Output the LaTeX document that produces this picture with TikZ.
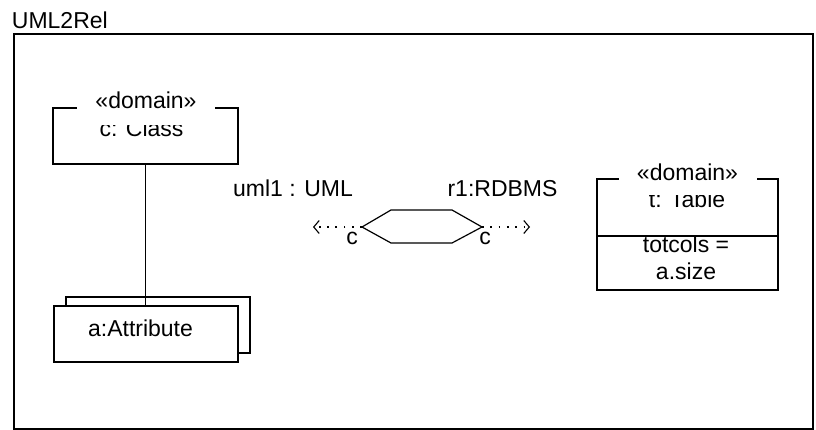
\documentclass[tikz,border=0pt]{standalone}
\usepackage{fontspec}
\setmainfont{Liberation Sans}
\usetikzlibrary{arrows.meta, positioning}

\begin{document}
\begin{tikzpicture}[x=1pt, y=-1pt, line width=1.2pt,
  font=\fontsize{23}{27}\selectfont,
  objbox/.style={draw, fill=white, inner sep=0pt},
  stereo/.style={fill=white, inner sep=0pt, minimum width=138},
  portlink/.style={dash pattern=on 1.8pt off 6.5pt, line width=1.1pt,
    -{Straight Barb[length=5.5pt, width=13pt, line width=1.1pt]}},
  every node/.style={align=center}]
  \useasboundingbox (0,0) rectangle (816,430);

  % frame
  \node[anchor=base west] (title) at (8,29) {UML2Rel};
  \draw (14,34) rectangle (813,429);

  % class object
  \node[objbox, minimum width=185, minimum height=56] (cls) at (145.5,136) {};
  \node[anchor=base] (clsname) at (141.5,137) {c: Class};
  \node[stereo, minimum height=50] (clsstereo) at (146,100) {«domain»};

  % attribute objects
  \node[objbox, minimum width=184, minimum height=56] (attrback) at (158,325) {};
  \node[objbox, minimum width=184, minimum height=56] (attr) at (146,334) {};
  \node[anchor=base] (attrname) at (140.5,336) {a:Attribute};
  \draw (cls.south) -- (cls.south |- attr.north);

  % relation
  \coordinate (hexl) at (362,227);
  \coordinate (hexr) at (482,227);
  \draw (hexl) -- (391,210) -- (452,210) -- (hexr) -- (452,243) -- (391,243) -- cycle;
  \coordinate (umlend) at (313,227);
  \coordinate (relend) at (530,227);
  \draw[portlink] (hexl) -- (umlend);
  \draw[portlink] (hexr) -- (relend);
  \node (umlc) at (352,238.5) {c};
  \node (relc) at (485,238.5) {c};
  \node[anchor=base] (umllbl) at (293,197) {uml1 : UML};
  \node[anchor=base] (rdbmslbl) at (502.5,197) {r1:RDBMS};

  % table object
  \node[objbox, minimum width=181, minimum height=57] (tblhead) at (687.5,207.5) {};
  \node[objbox, minimum width=181, minimum height=54] (tblbody) at (687.5,263) {};
  \node[anchor=base] (tblname) at (687,208) {t: Table};
  \node[stereo, minimum height=46] (tblstereo) at (687.5,172) {«domain»};
  \node (tblattr) at (686,257.5) {totcols =\\a.size};
\end{tikzpicture}
\end{document}
